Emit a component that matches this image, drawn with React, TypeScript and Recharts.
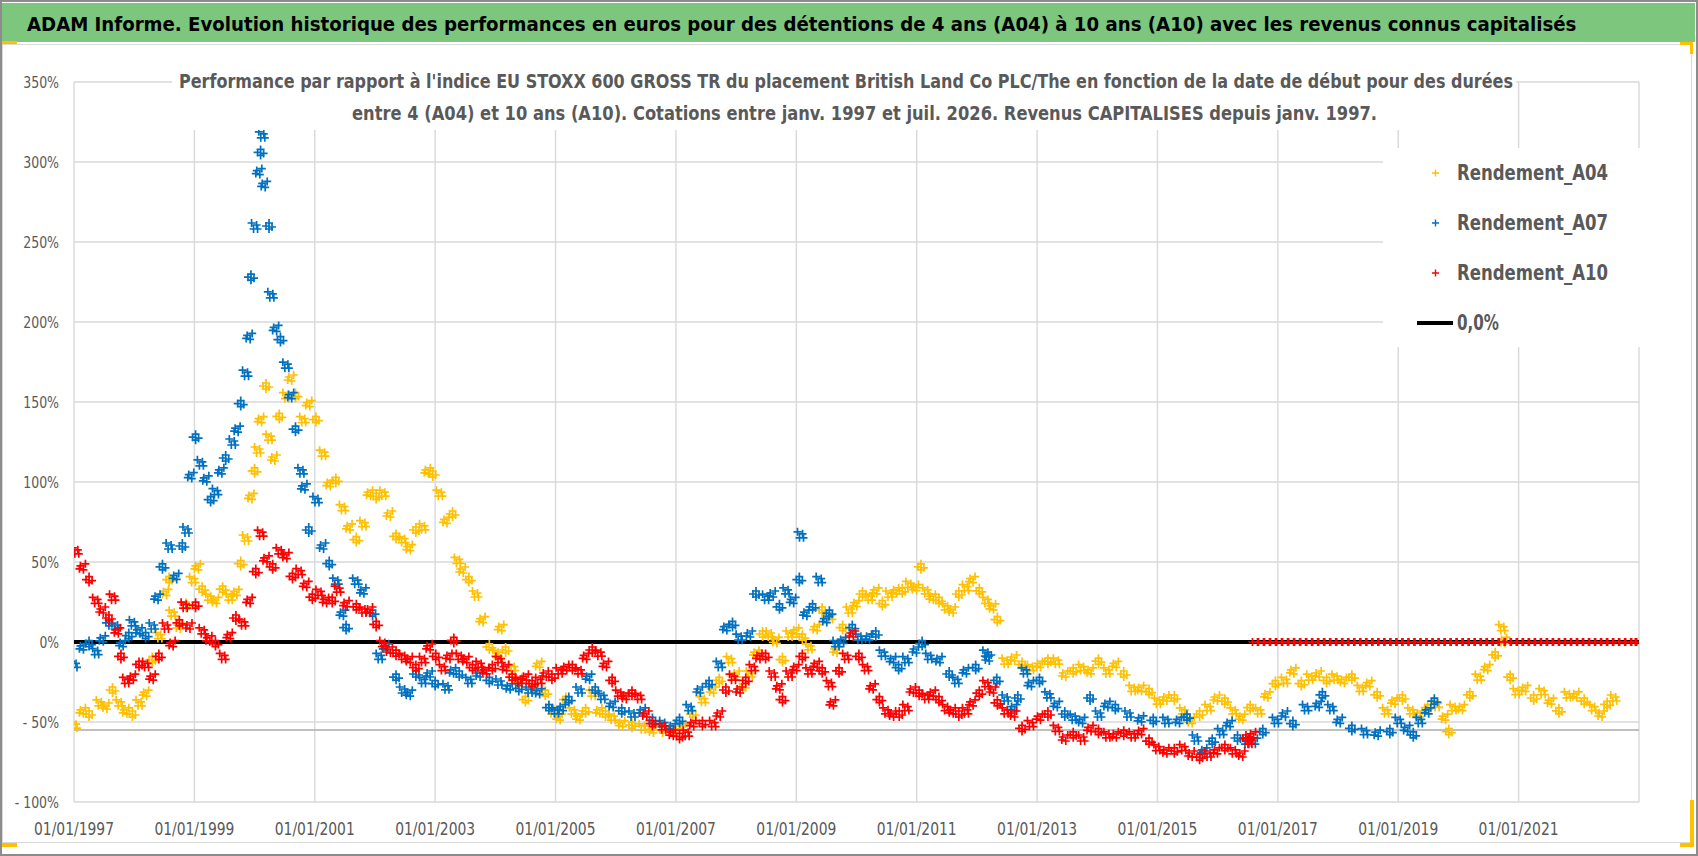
import React, { useLayoutEffect, useRef, useState } from "react";
import { ScatterChart, Scatter, XAxis, YAxis, CartesianGrid, ReferenceLine } from "recharts";

// Text in the picture is Calibri; these are the closest narrow faces we have
const FONT = '"Liberation Sans Narrow", "DejaVu Sans Condensed", "Liberation Sans", sans-serif';
const GREY_TEXT = "#595959";

const TITLE =
  "ADAM Informe. Evolution historique des performances en euros pour des détentions de 4 ans (A04) à 10 ans (A10) avec les revenus connus capitalisés";
const SUBTITLE_1 =
  "Performance par rapport à l'indice EU STOXX 600 GROSS TR  du placement British Land Co PLC/The en fonction de la date de début pour des durées";
const SUBTITLE_2 =
  "entre 4 (A04) et 10 ans (A10). Cotations entre janv. 1997 et juil. 2026. Revenus CAPITALISES depuis janv. 1997.";

const X_TICKS = [1997, 1999, 2001, 2003, 2005, 2007, 2009, 2011, 2013, 2015, 2017, 2019, 2021];
const Y_TICKS = [-100, -50, 0, 50, 100, 150, 200, 250, 300, 350];

// [date as decimal year, performance %]
const A04: [number, number][] = [
  [1997.0, -52], [1997.14, -43], [1997.25, -45], [1997.42, -38], [1997.53, -40], [1997.64, -30],
  [1997.75, -38], [1997.86, -43], [1997.97, -45], [1998.08, -38], [1998.19, -32], [1998.3, -11],
  [1998.41, 4], [1998.52, 31], [1998.58, 39], [1998.63, 18], [1998.75, 10], [1998.86, 23],
  [1998.97, 39], [1999.05, 47], [1999.13, 33], [1999.24, 28], [1999.35, 26], [1999.47, 33],
  [1999.58, 28], [1999.69, 31], [1999.77, 49], [1999.85, 65], [1999.94, 91], [2000.0, 107],
  [2000.05, 120], [2000.1, 139], [2000.19, 160], [2000.24, 128], [2000.32, 115], [2000.41, 141],
  [2000.52, 154], [2000.6, 165], [2000.68, 154], [2000.8, 139], [2000.9, 149], [2001.02, 139],
  [2001.13, 118], [2001.24, 99], [2001.35, 101], [2001.46, 84], [2001.57, 72], [2001.69, 64],
  [2001.8, 74], [2001.91, 93], [2002.02, 91], [2002.13, 93], [2002.24, 80], [2002.35, 66],
  [2002.46, 64], [2002.57, 59], [2002.68, 70], [2002.79, 72], [2002.87, 107], [2002.96, 105],
  [2003.07, 93], [2003.18, 76], [2003.29, 80], [2003.37, 51], [2003.45, 45], [2003.56, 39],
  [2003.67, 30], [2003.78, 14], [2003.9, -3], [2004.01, -7], [2004.09, 9], [2004.17, -5],
  [2004.28, -16], [2004.39, -24], [2004.5, -36], [2004.61, -28], [2004.72, -14], [2004.83, -32],
  [2004.94, -43], [2005.06, -47], [2005.17, -36], [2005.28, -43], [2005.39, -47], [2005.5, -43],
  [2005.61, -32], [2005.72, -43], [2005.83, -45], [2005.94, -47], [2006.1, -51], [2006.27, -52],
  [2006.44, -53], [2006.61, -55], [2006.78, -55], [2006.94, -55], [2007.11, -53], [2007.28, -45],
  [2007.44, -36], [2007.61, -30], [2007.72, -24], [2007.89, -11], [2008.0, -20], [2008.11, -28],
  [2008.22, -20], [2008.33, -7], [2008.44, 5], [2008.55, 5], [2008.66, 1], [2008.77, -11],
  [2008.88, 5], [2008.99, 7], [2009.1, 3], [2009.21, -3], [2009.33, 9], [2009.43, 20],
  [2009.55, 16], [2009.66, -5], [2009.77, 9], [2009.88, 20], [2009.99, 24], [2010.1, 30],
  [2010.21, 28], [2010.32, 32], [2010.43, 24], [2010.54, 30], [2010.65, 32], [2010.76, 32],
  [2010.87, 36], [2010.98, 34], [2011.07, 47], [2011.15, 32], [2011.26, 28], [2011.37, 26],
  [2011.48, 22], [2011.59, 20], [2011.7, 30], [2011.81, 34], [2011.92, 39], [2012.04, 32],
  [2012.15, 26], [2012.26, 22], [2012.34, 14], [2012.47, -12], [2012.61, -10], [2012.75, -14],
  [2012.89, -16], [2013.04, -14], [2013.18, -12], [2013.32, -12], [2013.46, -20], [2013.6, -18],
  [2013.74, -16], [2013.88, -18], [2014.02, -12], [2014.16, -18], [2014.3, -14], [2014.44, -20],
  [2014.58, -29], [2014.72, -29], [2014.86, -31], [2015.0, -37], [2015.14, -35], [2015.28, -35],
  [2015.42, -43], [2015.56, -49], [2015.7, -45], [2015.84, -41], [2015.98, -35], [2016.12, -37],
  [2016.26, -43], [2016.4, -47], [2016.54, -41], [2016.68, -43], [2016.82, -33], [2016.96, -26],
  [2017.11, -24], [2017.25, -18], [2017.39, -26], [2017.53, -22], [2017.67, -20], [2017.81, -24],
  [2017.95, -22], [2018.09, -24], [2018.23, -22], [2018.37, -29], [2018.51, -26], [2018.65, -33],
  [2018.79, -43], [2018.93, -37], [2019.07, -35], [2019.21, -43], [2019.35, -45], [2019.49, -41],
  [2019.63, -39], [2019.77, -47], [2019.84, -56], [2019.91, -41], [2020.05, -41], [2020.19, -33],
  [2020.33, -22], [2020.47, -16], [2020.61, -8], [2020.72, 9], [2020.75, 1], [2020.86, -22],
  [2020.96, -31], [2021.1, -29], [2021.25, -35], [2021.39, -31], [2021.53, -37], [2021.67, -43],
  [2021.81, -33], [2021.95, -33], [2022.09, -37], [2022.23, -41], [2022.37, -45], [2022.47, -39],
  [2022.58, -35],
];

const A07: [number, number][] = [
  [1997.0, -14], [1997.14, -3], [1997.25, -1], [1997.36, -6], [1997.47, 2], [1997.58, 12],
  [1997.69, 10], [1997.8, -1], [1997.91, 4], [1997.97, 12], [1998.08, 7], [1998.19, 4],
  [1998.3, 10], [1998.38, 28], [1998.47, 47], [1998.58, 60], [1998.69, 41], [1998.8, 60],
  [1998.86, 70], [1998.94, 104], [1999.02, 128], [1999.1, 112], [1999.19, 102], [1999.27, 89],
  [1999.35, 94], [1999.44, 107], [1999.52, 115], [1999.63, 125], [1999.71, 133], [1999.77, 149],
  [1999.85, 168], [1999.91, 191], [1999.94, 228], [2000.0, 260], [2000.07, 294], [2000.1, 306],
  [2000.12, 317], [2000.16, 286], [2000.24, 260], [2000.27, 217], [2000.35, 196], [2000.43, 189],
  [2000.52, 173], [2000.6, 154], [2000.68, 133], [2000.77, 107], [2000.82, 97], [2000.9, 70],
  [2001.02, 89], [2001.13, 60], [2001.24, 49], [2001.35, 38], [2001.46, 18], [2001.52, 9],
  [2001.68, 38], [2001.8, 32], [2001.96, 18], [2002.07, -9], [2002.18, -3], [2002.35, -22],
  [2002.46, -30], [2002.57, -32], [2002.68, -20], [2002.79, -24], [2002.9, -20], [2003.0, -26],
  [2003.18, -28], [2003.29, -18], [2003.4, -20], [2003.56, -24], [2003.73, -20], [2003.9, -24],
  [2004.06, -25], [2004.23, -28], [2004.39, -29], [2004.56, -30], [2004.72, -31], [2004.89, -41],
  [2005.0, -43], [2005.11, -41], [2005.22, -36], [2005.39, -30], [2005.55, -22], [2005.66, -30],
  [2005.77, -34], [2005.94, -39], [2006.1, -43], [2006.27, -45], [2006.44, -43], [2006.61, -49],
  [2006.78, -51], [2006.94, -53], [2007.06, -49], [2007.22, -41], [2007.39, -30], [2007.55, -26],
  [2007.72, -14], [2007.83, 9], [2007.94, 11], [2008.05, 3], [2008.22, 5], [2008.33, 30],
  [2008.49, 28], [2008.6, 30], [2008.72, 22], [2008.83, 32], [2008.94, 26], [2009.05, 39],
  [2009.07, 67], [2009.16, 18], [2009.27, 22], [2009.38, 39], [2009.49, 14], [2009.55, 18],
  [2009.66, -1], [2009.77, 1], [2009.93, 9], [2010.04, 3], [2010.2, 3], [2010.32, 5],
  [2010.43, -7], [2010.6, -11], [2010.7, -16], [2010.82, -11], [2010.98, -5], [2011.09, -1],
  [2011.2, -9], [2011.37, -11], [2011.54, -20], [2011.65, -24], [2011.81, -18], [2011.98, -16],
  [2012.15, -7], [2012.19, -10], [2012.33, -24], [2012.47, -35], [2012.61, -41], [2012.68, -35],
  [2012.79, -18], [2012.89, -26], [2013.04, -24], [2013.18, -33], [2013.32, -39], [2013.46, -45],
  [2013.6, -47], [2013.74, -49], [2013.88, -35], [2014.02, -45], [2014.16, -39], [2014.3, -41],
  [2014.51, -45], [2014.72, -48], [2014.93, -49], [2015.14, -49], [2015.35, -49], [2015.49, -47],
  [2015.63, -60], [2015.77, -68], [2015.91, -62], [2016.05, -56], [2016.19, -51], [2016.33, -60],
  [2016.47, -62], [2016.61, -62], [2016.75, -56], [2016.96, -49], [2017.11, -45], [2017.25, -51],
  [2017.46, -41], [2017.67, -39], [2017.74, -33], [2017.88, -41], [2018.02, -49], [2018.23, -54],
  [2018.44, -56], [2018.65, -57], [2018.86, -56], [2019.0, -49], [2019.14, -54], [2019.25, -58],
  [2019.35, -49], [2019.49, -43], [2019.6, -37],
];

const A10: [number, number][] = [
  [1997.03, 57], [1997.14, 47], [1997.25, 39], [1997.36, 26], [1997.47, 20], [1997.58, 15],
  [1997.64, 28], [1997.72, 7], [1997.78, -9], [1997.86, -24], [1997.97, -22], [1998.08, -14],
  [1998.19, -14], [1998.3, -22], [1998.41, -9], [1998.52, 10], [1998.63, -1], [1998.75, 12],
  [1998.83, 23], [1998.91, 10], [1999.02, 23], [1999.13, 7], [1999.24, 2], [1999.35, -1],
  [1999.47, -9], [1999.58, 4], [1999.69, 15], [1999.8, 12], [1999.91, 26], [2000.02, 44],
  [2000.1, 68], [2000.19, 52], [2000.3, 47], [2000.41, 57], [2000.52, 54], [2000.63, 41],
  [2000.74, 44], [2000.85, 36], [2000.96, 28], [2001.07, 31], [2001.18, 26], [2001.29, 26],
  [2001.38, 33], [2001.52, 24], [2001.69, 22], [2001.8, 20], [2001.91, 20], [2002.02, 11],
  [2002.13, -1], [2002.24, -5], [2002.35, -7], [2002.46, -9], [2002.57, -11], [2002.68, -16],
  [2002.79, -11], [2002.9, -3], [2003.01, -9], [2003.12, -16], [2003.23, -9], [2003.31, 1],
  [2003.4, -9], [2003.51, -11], [2003.62, -16], [2003.73, -14], [2003.84, -18], [2003.95, -16],
  [2004.06, -11], [2004.17, -16], [2004.28, -22], [2004.39, -24], [2004.5, -22], [2004.61, -26],
  [2004.72, -24], [2004.83, -20], [2004.94, -22], [2005.06, -18], [2005.17, -16], [2005.28, -16],
  [2005.39, -18], [2005.5, -9], [2005.61, -5], [2005.72, -7], [2005.83, -14], [2005.94, -24],
  [2006.05, -32], [2006.16, -34], [2006.27, -32], [2006.38, -34], [2006.5, -45], [2006.61, -51],
  [2006.78, -53], [2006.94, -57], [2007.06, -59], [2007.17, -57], [2007.28, -51], [2007.44, -51],
  [2007.61, -51], [2007.72, -45], [2007.83, -30], [2007.94, -22], [2008.05, -30], [2008.16, -24],
  [2008.27, -16], [2008.38, -9], [2008.49, -9], [2008.6, -20], [2008.71, -28], [2008.77, -36],
  [2008.88, -20], [2008.99, -16], [2009.1, -9], [2009.21, -18], [2009.33, -14], [2009.43, -18],
  [2009.55, -26], [2009.6, -38], [2009.71, -18], [2009.82, -9], [2009.93, 5], [2010.04, -9],
  [2010.15, -16], [2010.26, -28], [2010.38, -36], [2010.49, -43], [2010.6, -45], [2010.71, -45],
  [2010.82, -41], [2010.93, -30], [2011.04, -32], [2011.15, -34], [2011.26, -32], [2011.37, -36],
  [2011.48, -41], [2011.59, -43], [2011.7, -45], [2011.81, -43], [2011.92, -38], [2012.04, -32],
  [2012.15, -26], [2012.26, -30], [2012.34, -38], [2012.47, -43], [2012.61, -45], [2012.75, -54],
  [2012.89, -51], [2013.04, -47], [2013.18, -45], [2013.32, -54], [2013.46, -60], [2013.6, -58],
  [2013.74, -60], [2013.88, -54], [2014.02, -56], [2014.16, -58], [2014.3, -58], [2014.44, -57],
  [2014.58, -58], [2014.72, -56], [2014.86, -62], [2014.99, -66], [2015.14, -68], [2015.28, -68],
  [2015.42, -66], [2015.56, -70], [2015.7, -72], [2015.84, -70], [2015.98, -68], [2016.12, -66],
  [2016.26, -68], [2016.4, -70], [2016.47, -60], [2016.52, -62], [2016.58, -58],
];

// no 10-year result yet: the A10 series sits at 0 from mid-2016 on
const A10_ZERO_DATES = [
  2016.62, 2016.72, 2016.82, 2016.92, 2017.02, 2017.12, 2017.22, 2017.32, 2017.42, 2017.52,
  2017.62, 2017.72, 2017.82, 2017.92, 2018.02, 2018.12, 2018.22, 2018.32, 2018.42, 2018.52,
  2018.62, 2018.72, 2018.82, 2018.92, 2019.02, 2019.12, 2019.22, 2019.32, 2019.42, 2019.52,
  2019.62, 2019.72, 2019.82, 2019.92, 2020.02, 2020.12, 2020.22, 2020.32, 2020.42, 2020.52,
  2020.62, 2020.72, 2020.82, 2020.92, 2021.02, 2021.12, 2021.22, 2021.32, 2021.42, 2021.52,
  2021.62, 2021.72, 2021.82, 2021.92, 2022.02, 2022.12, 2022.22, 2022.32, 2022.42, 2022.52,
  2022.62, 2022.72, 2022.82, 2022.92, 2022.98,
];

const ZERO_LINE: [number, number][] = [[1997, 0], [2023, 0]];

const toPoints = (rows: [number, number][]) => rows.map(([x, y], i) => ({ x, y, i }));

const SERIES = [
  { name: "Rendement_A04", color: "#FFC000", points: toPoints(A04) },
  { name: "Rendement_A07", color: "#0070C0", points: toPoints(A07) },
  {
    name: "Rendement_A10",
    color: "#FF0000",
    points: toPoints([...A10, ...A10_ZERO_DATES.map((d) => [d, 0] as [number, number])]),
  },
];

// rough Calibri advance widths, used to squeeze the fallback font to the original width
const calibriWidth = (s: string, size: number) =>
  s.split("").reduce((w, c) => {
    if (/[0-9]/.test(c)) return w + 0.507;
    if (c === "%") return w + 0.715;
    if (c === " ") return w + 0.226;
    if (c === "-") return w + 0.306;
    if (c === "/") return w + 0.386;
    return w + 0.5;
  }, 0) * size;

const yLabel = (v: number) => (v < 0 ? `- ${-v}%` : `${v}%`);

function YTick(props: any) {
  const { x, y, payload } = props;
  const label = yLabel(payload.value);
  return (
    <text
      x={x}
      y={y}
      dy="0.35em"
      textAnchor="end"
      fontFamily={FONT}
      fontSize={16}
      fill={GREY_TEXT}
      textLength={calibriWidth(label, 16)}
      lengthAdjust="spacingAndGlyphs"
    >
      {label}
    </text>
  );
}

function XTick(props: any) {
  const { x, y, payload } = props;
  return (
    <text
      x={x}
      y={y}
      dy="0.35em"
      textAnchor="middle"
      fontFamily={FONT}
      fontSize={17}
      fill={GREY_TEXT}
      textLength={80}
      lengthAdjust="spacingAndGlyphs"
    >
      {`01/01/${payload.value}`}
    </text>
  );
}

// the source has one marker per trading day; each of our readings is drawn as a
// small cloud of plus signs (three layouts in turn) so the band keeps its thickness
const CLOUDS = [
  [[-3, -3], [2, -1], [-1, 3], [3, 3]],
  [[-2, -1], [3, -3], [-3, 2], [1, 3]],
  [[0, -3], [-3, 0], [3, 1], [0, 3]],
];
const FLAT_CLOUD = [[-2.5, 0], [2.5, 0]];

const plusShape = (color: string) => (props: any) => {
  const { cx, cy, payload } = props;
  if (cx == null || cy == null) return <g />;
  const offsets =
    payload && payload.y === 0 ? FLAT_CLOUD : CLOUDS[((payload && payload.i) || 0) % 3];
  const d = offsets
    .map(([dx, dy]) => `M${cx + dx - 4},${cy + dy}h8M${cx + dx},${cy + dy - 4}v8`)
    .join("");
  return <path d={d} stroke={color} strokeWidth={1.7} fill="none" />;
};

function Legend() {
  const rows = SERIES.map((s, i) => ({ ...s, cy: 173 + i * 50 }));
  return (
    <svg
      width={257}
      height={199}
      style={{ position: "absolute", left: 1383, top: 148, background: "#fff", overflow: "visible" }}
    >
      <g transform="translate(-1383,-148)">
        {rows.map((r) => (
          <g key={r.name}>
            <path
              d={`M${1432},${r.cy}h7M${1435.5},${r.cy - 3.5}v7`}
              stroke={r.color}
              strokeWidth={1.4}
            />
            <text
              x={1457}
              y={r.cy + 7}
              fontFamily={FONT}
              fontWeight="bold"
              fontSize={22}
              fill={GREY_TEXT}
              textLength={151}
              lengthAdjust="spacingAndGlyphs"
            >
              {r.name}
            </text>
          </g>
        ))}
        <line x1={1417} x2={1453} y1={323} y2={323} stroke="#000" strokeWidth={4} />
        <text
          x={1457}
          y={330}
          fontFamily={FONT}
          fontWeight="bold"
          fontSize={22}
          fill={GREY_TEXT}
          textLength={42}
          lengthAdjust="spacingAndGlyphs"
        >
          0,0%
        </text>
      </g>
    </svg>
  );
}

// the title must span 1555px; shrink the font if the fallback face runs wider
function Title() {
  const ref = useRef<SVGTextElement>(null);
  const [size, setSize] = useState(23);
  useLayoutEffect(() => {
    const el = ref.current;
    if (!el) return;
    const w = el.getComputedTextLength();
    if (w > 1555 && size === 23) setSize(Math.floor((23 * 1555) / w * 10) / 10);
  }, [size]);
  return (
    <svg
      width={1698}
      height={45}
      style={{ position: "absolute", left: 0, top: 0, overflow: "visible" }}
    >
      <text
        ref={ref}
        x={27}
        y={31}
        fontFamily={FONT}
        fontWeight="bold"
        fontSize={size}
        fill="#000"
      >
        {TITLE}
      </text>
    </svg>
  );
}

const handle = (left: number, top: number, width: number, height: number) => (
  <div
    style={{ position: "absolute", left, top, width, height, background: "#FFC000" }}
  />
);

export default function App() {
  return (
    <div
      style={{
        position: "relative",
        width: 1698,
        height: 856,
        background: "#fff",
        overflow: "hidden",
      }}
    >
      <style>{"body{margin:0}"}</style>
      {/* outer frame and title bar */}
      <div
        style={{
          position: "absolute",
          inset: 0,
          border: "2px solid #8C8C8C",
          boxSizing: "border-box",
        }}
      />
      <div
        style={{
          position: "absolute",
          left: 2,
          top: 3,
          width: 1693,
          height: 39,
          background: "#7DC67D",
        }}
      />
      <Title />
      <div
        style={{
          position: "absolute",
          left: 2,
          top: 44,
          width: 1690,
          height: 799,
          border: "1px solid #D9D9D9",
          boxSizing: "border-box",
        }}
      />

      <div style={{ position: "absolute", left: 0, top: 0 }}>
        <ScatterChart
          width={1698}
          height={856}
          margin={{ top: 82, right: 59, bottom: 24, left: 14 }}
        >
          <CartesianGrid stroke="#D9D9D9" strokeWidth={1.4} />
          <XAxis
            type="number"
            dataKey="x"
            domain={[1997, 2023]}
            ticks={X_TICKS}
            interval={0}
            height={30}
            axisLine={false}
            tickLine={false}
            tickSize={0}
            tickMargin={27}
            tick={<XTick />}
            allowDataOverflow
          />
          <YAxis
            type="number"
            dataKey="y"
            domain={[-100, 350]}
            ticks={Y_TICKS}
            interval={0}
            width={60}
            axisLine={false}
            tickLine={false}
            tickSize={0}
            tickMargin={15}
            tick={<YTick />}
            allowDataOverflow
          />
          <ReferenceLine y={-55} stroke="#BFBFBF" strokeWidth={2} />
          <Scatter
            name="0,0%"
            data={toPoints(ZERO_LINE)}
            line={{ stroke: "#000", strokeWidth: 4 }}
            shape={() => <g />}
            isAnimationActive={false}
          />
          {SERIES.map((s) => (
            <Scatter
              key={s.name}
              name={s.name}
              data={s.points}
              shape={plusShape(s.color)}
              isAnimationActive={false}
            />
          ))}
        </ScatterChart>
      </div>

      {/* chart title box covers the top gridlines */}
      <svg
        width={1344}
        height={68}
        style={{ position: "absolute", left: 172, top: 62, background: "#fff", overflow: "visible" }}
      >
        <g transform="translate(-172,-62)">
          <text
            x={179}
            y={88}
            fontFamily={FONT}
            fontWeight="bold"
            fontSize={20}
            fill={GREY_TEXT}
            textLength={1334}
            lengthAdjust="spacingAndGlyphs"
          >
            {SUBTITLE_1}
          </text>
          <text
            x={352}
            y={120}
            fontFamily={FONT}
            fontWeight="bold"
            fontSize={20}
            fill={GREY_TEXT}
            textLength={1025}
            lengthAdjust="spacingAndGlyphs"
          >
            {SUBTITLE_2}
          </text>
        </g>
      </svg>

      <Legend />

      {handle(2, 41, 15, 3)}
      {handle(1680, 42, 13, 3)}
      {handle(1690, 42, 3, 12)}
      {handle(2, 843, 15, 4)}
      {handle(1690, 800, 4, 47)}
      {handle(1680, 843, 14, 4)}
    </div>
  );
}
